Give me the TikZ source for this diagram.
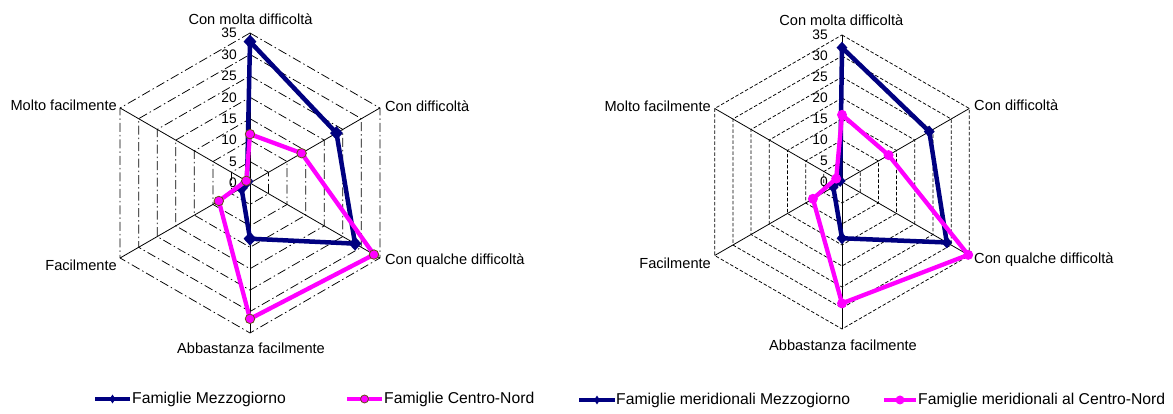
\documentclass[tikz,border=0pt]{standalone}
\usepackage{fontspec}
\setmainfont{Liberation Sans}
\usetikzlibrary{shapes.geometric}
\definecolor{navy}{RGB}{0,0,128}
\definecolor{mag}{RGB}{255,0,255}
\definecolor{mkedge}{RGB}{100,80,20}
\tikzset{
 lbl/.style={font=\fontsize{14.6}{17}\selectfont, inner sep=0pt},
 tk/.style={font=\fontsize{13.8}{16}\selectfont, inner sep=0pt, anchor=east},
 lg/.style={font=\fontsize{15.7}{18}\selectfont, inner sep=0pt, anchor=west},
 spoke/.style={draw=black, line width=0.8pt},
 ringL/.style={draw=black, line width=0.75pt, dash pattern=on 9pt off 3pt on 1.5pt off 3pt},
 ringR/.style={draw=black, line width=0.75pt, dash pattern=on 3.5pt off 2pt},
 navyline/.style={draw=navy, line width=4.5pt, line join=round},
 magline/.style={draw=mag, line width=4.3pt, line join=round},
 dmd/.style={diamond, fill=navy, inner sep=0pt, minimum width=13pt, minimum height=14pt},
 circL/.style={circle, fill=mag, draw=mkedge, line width=0.8pt, inner sep=0pt, minimum size=9.5pt},
 circR/.style={circle, fill=mag, inner sep=0pt, minimum size=10pt},
}
\begin{document}
\begin{tikzpicture}[x=1pt,y=1pt]
\useasboundingbox (0,0) rectangle (1173,414);
\fill[white] (0,0) rectangle (1173,414);

% ---------------- Left chart ----------------
\begin{scope}[shift={(250,231)}]
 \foreach \k in {1,...,7}{
  \draw[ringL] (90:\k*150/7) -- (30:\k*150/7) -- (-30:\k*150/7) -- (-90:\k*150/7) -- (-150:\k*150/7) -- (150:\k*150/7) -- cycle;}
 \foreach \a in {90,30,-30,-90,-150,150}{\draw[spoke] (0,0) -- (\a:150);}
 \foreach \v in {0,5,...,35}{\node[tk] (LT\v) at (-13,\v*150/35) {\v};}
 \node[lbl] (Lla1) at (0.5,164) {Con molta difficoltà};
 \node[lbl, anchor=west] (Lla2) at (135,77) {Con difficoltà};
 \node[lbl, anchor=west] (Lla3) at (135,-78) {Con qualche difficoltà};
 \node[lbl] (Lla4) at (1,-165) {Abbastanza facilmente};
 \node[lbl, anchor=east] (Lla5) at (-133,-82) {Facilmente};
 \node[lbl, anchor=east] (Lla6) at (-133,78) {Molto facilmente};
 % navy series
 \foreach \n/\a/\v in {1/90/33, 2/30/23.3, 3/-30/28.3, 4/-90/13, 5/-150/2.3, 6/150/0.8}{
  \coordinate (LN\n) at (\a:\v*150/35);}
 \draw[navyline] (LN1) -- (LN2) -- (LN3) -- (LN4) -- (LN5) -- (LN6) -- cycle;
 \foreach \n in {1,...,6}{\node[dmd] (LNm\n) at (LN\n) {};}
 % magenta series
 \foreach \n/\a/\v in {1/90/11.4, 2/30/13.9, 3/-30/33.4, 4/-90/31.7, 5/-150/8.4, 6/150/1}{
  \coordinate (LM\n) at (\a:\v*150/35);}
 \draw[magline] (LM1) -- (LM2) -- (LM3) -- (LM4) -- (LM5) -- (LM6) -- cycle;
 \foreach \n in {1,...,6}{\node[circL] (LMm\n) at (LM\n) {};}
\end{scope}

% ---------------- Right chart ----------------
\begin{scope}[shift={(842,232)}]
 \foreach \k in {1,...,7}{
  \draw[ringR] (90:\k*147/7) -- (30:\k*147/7) -- (-30:\k*147/7) -- (-90:\k*147/7) -- (-150:\k*147/7) -- (150:\k*147/7) -- cycle;}
 \foreach \a in {90,30,-30,-90,-150,150}{\draw[spoke] (0,0) -- (\a:147);}
 \foreach \v in {0,5,...,35}{\node[tk] (RT\v) at (-14,\v*147/35) {\v};}
 \node[lbl] (Rla1) at (-0.7,161.5) {Con molta difficoltà};
 \node[lbl, anchor=west] (Rla2) at (132,77) {Con difficoltà};
 \node[lbl, anchor=west] (Rla3) at (132,-78) {Con qualche difficoltà};
 \node[lbl] (Rla4) at (1,-163) {Abbastanza facilmente};
 \node[lbl, anchor=east] (Rla5) at (-131,-81) {Facilmente};
 \node[lbl, anchor=east] (Rla6) at (-131,76) {Molto facilmente};
 \foreach \n/\a/\v in {1/90/32, 2/30/24, 3/-30/28.8, 4/-90/13.4, 5/-150/2.4, 6/150/0.5}{
  \coordinate (RN\n) at (\a:\v*147/35);}
 \draw[navyline] (RN1) -- (RN2) -- (RN3) -- (RN4) -- (RN5) -- (RN6) -- cycle;
 \foreach \n in {1,...,6}{\node[dmd, minimum width=11pt, minimum height=12pt] (RNm\n) at (RN\n) {};}
 \foreach \n/\a/\v in {1/90/16, 2/30/12.8, 3/-30/34.7, 4/-90/28.9, 5/-150/8, 6/150/1.6}{
  \coordinate (RM\n) at (\a:\v*147/35);}
 \draw[magline] (RM1) -- (RM2) -- (RM3) -- (RM4) -- (RM5) -- (RM6) -- cycle;
 \foreach \n in {1,...,6}{\node[circR] (RMm\n) at (RM\n) {};}
\end{scope}

% ---------------- Legends ----------------
\coordinate (lgA1) at (95,15); \coordinate (lgA2) at (130,15);
\draw[navyline, line width=4pt] (lgA1) -- (lgA2);
\node[dmd, minimum width=6pt, minimum height=9pt] (lgAm) at (112.5,15) {};
\node[lg] (lgAt) at (132,15) {Famiglie Mezzogiorno};

\coordinate (lgB1) at (347,15); \coordinate (lgB2) at (382,15);
\draw[magline, line width=4pt] (lgB1) -- (lgB2);
\node[circL, minimum size=8pt] (lgBm) at (364.5,15) {};
\node[lg] (lgBt) at (384,15) {Famiglie Centro-Nord};

\coordinate (lgC1) at (579,14); \coordinate (lgC2) at (615,14);
\draw[navyline, line width=4pt] (lgC1) -- (lgC2);
\node[dmd, minimum width=6pt, minimum height=9pt] (lgCm) at (597,14) {};
\node[lg] (lgCt) at (616,14) {Famiglie meridionali Mezzogiorno};

\coordinate (lgD1) at (884,14); \coordinate (lgD2) at (916,14);
\draw[magline, line width=4pt] (lgD1) -- (lgD2);
\node[circR, minimum size=9pt] (lgDm) at (900,14) {};
\node[lg] (lgDt) at (918,14) {Famiglie meridionali al Centro-Nord};
\end{tikzpicture}
\end{document}
